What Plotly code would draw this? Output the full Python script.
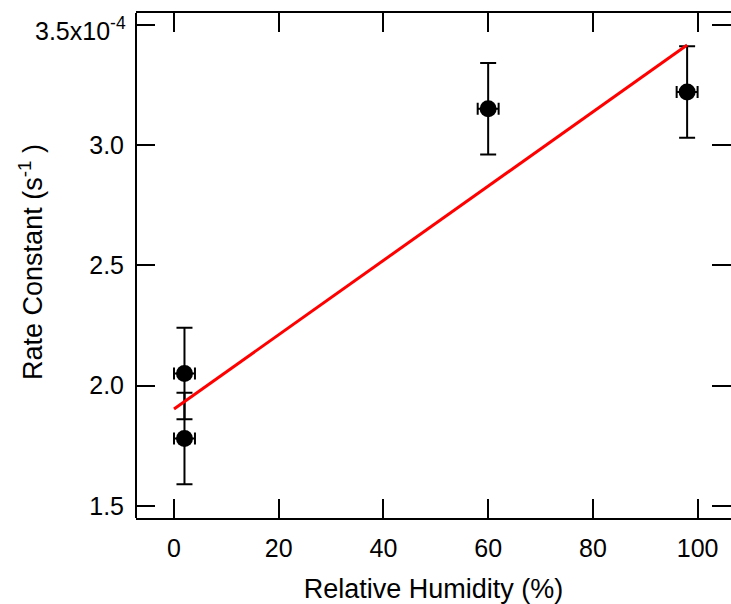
import plotly.graph_objects as go

# Data (rate constant in units of 1e-4 s^-1)
humidity = [2, 2, 60, 98]
humidity_err = [2, 2, 2, 2]
rate = [2.05, 1.78, 3.15, 3.22]
rate_err = [0.19, 0.19, 0.19, 0.19]

fit_x = [0, 98]
fit_y = [1.903, 3.415]

x_ticks = [0, 20, 40, 60, 80, 100]
y_ticks = [1.5, 2.0, 2.5, 3.0, 3.5]
y_ticktext = ["1.5", "2.0", "2.5", "3.0", ""]
top_label = "3.5x10<sup>-4</sup>"

FONT = "Liberation Sans, Arial, sans-serif"
TICK_SIZE = 25
TITLE_SIZE = 27

fig = go.Figure()
fig.add_trace(go.Scatter(
    x=humidity, y=rate, mode="markers",
    marker=dict(size=17, color="black"),
    error_x=dict(type="data", array=humidity_err, color="black", thickness=2, width=6),
    error_y=dict(type="data", array=rate_err, color="black", thickness=2, width=8),
    showlegend=False,
))
fig.add_trace(go.Scatter(
    x=fit_x, y=fit_y, mode="lines",
    line=dict(color="#ff0000", width=3),
    showlegend=False,
))

fig.update_layout(
    width=731, height=604,
    margin=dict(l=136, r=0, t=13, b=86),
    paper_bgcolor="white", plot_bgcolor="white",
    font=dict(family=FONT, size=TICK_SIZE, color="black"),
    shapes=[dict(type="line", xref="paper", yref="paper", x0=0, x1=0, y0=0, y1=1,
                 line=dict(color="black", width=2))],
    annotations=[
        dict(
            text="Rate Constant (s<sup>-1</sup> )", textangle=-90,
            xref="paper", yref="paper", x=-0.1765, y=0.507,
            xanchor="center", yanchor="middle", showarrow=False,
            font=dict(family=FONT, size=TITLE_SIZE, color="black"),
        ),
        dict(
            text=top_label, xref="paper", yref="y", x=0, y=y_ticks[-1],
            xanchor="right", yanchor="middle", xshift=-8, yshift=-4,
            showarrow=False, font=dict(family=FONT, size=TICK_SIZE, color="black"),
        ),
    ],
)
fig.update_xaxes(
    range=[-7.26, 106.38],
    tickmode="array", tickvals=x_ticks,
    showgrid=False, zeroline=False,
    showline=True, linecolor="black", linewidth=2, mirror="ticks",
    ticks="inside", ticklen=19, tickwidth=2, tickcolor="black",
    ticklabelstandoff=7,
    title=dict(text="Relative Humidity (%)", standoff=21,
               font=dict(family=FONT, size=TITLE_SIZE)),
)
fig.update_yaxes(
    range=[1.450, 3.548],
    tickmode="array", tickvals=y_ticks, ticktext=y_ticktext,
    showgrid=False, zeroline=False,
    showline=False, mirror="ticks",
    ticks="inside", ticklen=19, tickwidth=2, tickcolor="black",
    ticklabelstandoff=11, ticklabeloverflow="allow",
)

fig.write_html("out.html", config={"displayModeBar": False},
               post_script="document.body.style.margin='0';")
